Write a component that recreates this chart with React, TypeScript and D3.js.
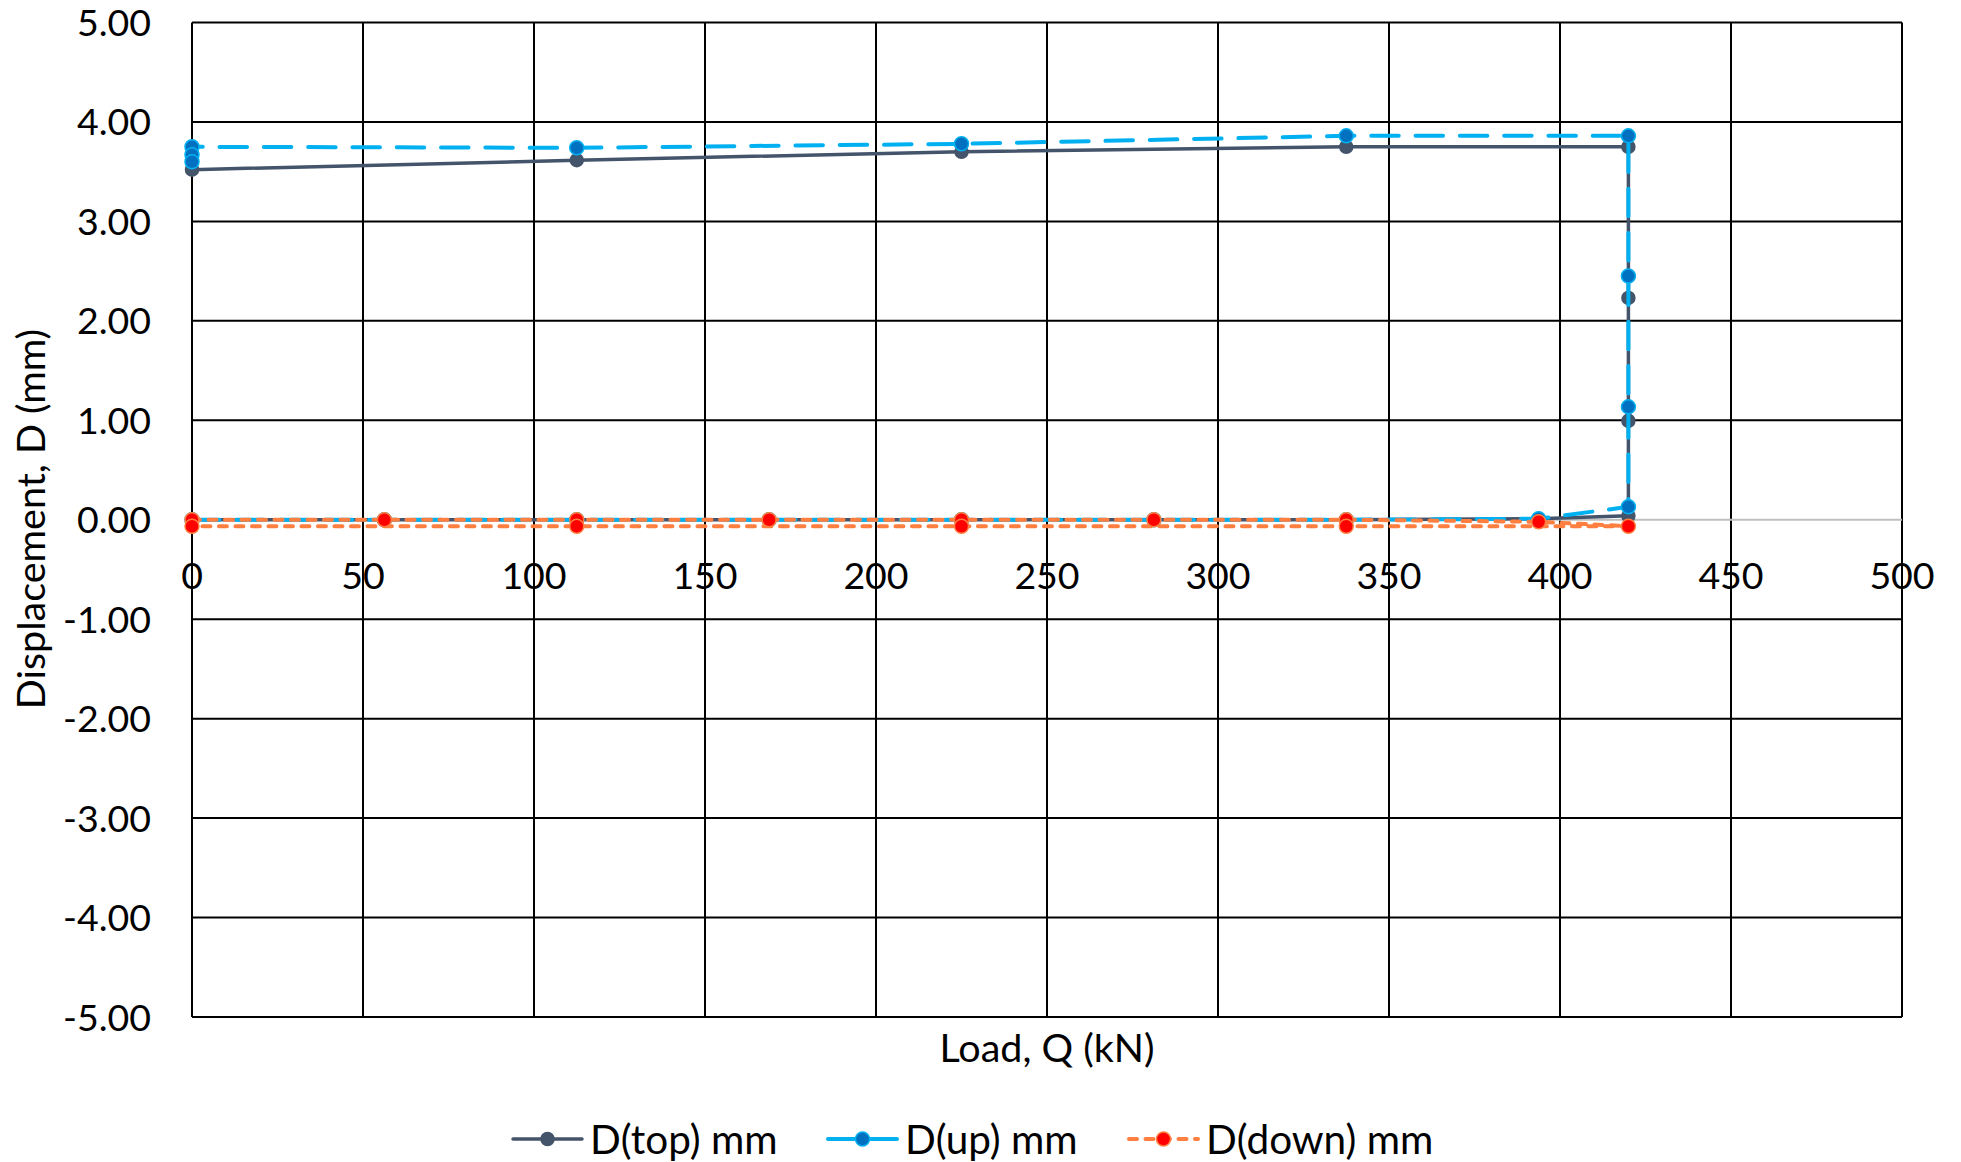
import React from "react";
import * as d3 from "d3";

const xTicks = [0, 50, 100, 150, 200, 250, 300, 350, 400, 450, 500];
const yTicks = [5, 4, 3, 2, 1, 0, -1, -2, -3, -4, -5];

const loadTop = [0, 56.25, 112.5, 168.75, 225, 281.25, 337.5, 393.75, 420, 420, 420, 420, 337.5, 225, 112.5, 0];
const dispTop = [0, 0, 0, 0, 0, 0, 0, 0.01, 0.04, 0.995, 2.23, 3.75, 3.75, 3.7, 3.615, 3.52];

const loadUp = [0, 56.25, 112.5, 168.75, 225, 281.25, 337.5, 393.75, 420, 420, 420, 420, 337.5, 225, 112.5, 0, 0, 0];
const dispUp = [0, 0, 0, 0, 0, 0, 0, 0.01, 0.13, 1.135, 2.45, 3.86, 3.86, 3.78, 3.74, 3.75, 3.67, 3.6];

const loadDown = [0, 56.25, 112.5, 168.75, 225, 281.25, 337.5, 393.75, 420, 337.5, 225, 112.5, 0];
const dispDown = [0, 0, 0, 0, 0, 0, 0, -0.02, -0.065, -0.065, -0.065, -0.065, -0.065];

const seriesNames = ["D(top) mm", "D(up) mm", "D(down) mm"];

const W = 1961;
const H = 1162;
const L = 192, R = 1902, T = 22.5, B = 1017;
const FONT = "Lato, 'Open Sans', sans-serif";
const FS = 37.5;
const FS_TITLE = 39.5;
const FS_LEG = 40.5;

type Pt = [number, number];

export default function App() {
  const x = d3.scaleLinear().domain([0, 500]).range([L, R]);
  const y = d3.scaleLinear().domain([-5, 5]).range([B, T]);
  const line = d3.line<Pt>().x((d) => x(d[0])).y((d) => y(d[1]));

  const zip = (a: number[], b: number[]): Pt[] => a.map((v, i) => [v, b[i]]);

  const series = [
    {
      name: seriesNames[0],
      pts: zip(loadTop, dispTop),
      stroke: "#44546A",
      dash: undefined as string | undefined,
      width: 3.5,
      mFill: "#44546A",
      mStroke: "#44546A",
      r: 6.5,
    },
    {
      name: seriesNames[1],
      pts: zip(loadUp, dispUp),
      stroke: "#00B0F0",
      dash: "27.5 16.8",
      width: 4,
      mFill: "#0070C0",
      mStroke: "#00B0F0",
      r: 7,
    },
    {
      name: seriesNames[2],
      pts: zip(loadDown, dispDown),
      stroke: "#FF7F40",
      dash: "8 8.5",
      width: 4,
      mFill: "#FF0000",
      mStroke: "#FF7F40",
      r: 7,
    },
  ];

  const legendX = [513, 828, 1129];
  const legendY = 1139;

  return (
    <svg
      width={W}
      height={H}
      style={{ position: "absolute", left: 0, top: 0, background: "#fff" }}
      fontFamily={FONT}
    >
      <rect x={0} y={0} width={W} height={H} fill="#fff" />
      {xTicks.map((t) => (
        <line key={"gx" + t} x1={x(t)} x2={x(t)} y1={T} y2={B} stroke="#000" strokeWidth={2} />
      ))}
      {yTicks.map((t) => (
        <line
          key={"gy" + t}
          x1={L}
          x2={R}
          y1={y(t)}
          y2={y(t)}
          stroke={t === 0 ? "#BFBFBF" : "#000"}
          strokeWidth={2}
        />
      ))}
      {yTicks.map((t) => (
        <text key={"ly" + t} x={151} y={y(t)} dy="0.36em" textAnchor="end" fontSize={FS} fill="#000">
          {t.toFixed(2)}
        </text>
      ))}
      {xTicks.map((t) => (
        <text key={"lx" + t} x={x(t)} y={575} dy="0.36em" textAnchor="middle" fontSize={FS} fill="#000">
          {t}
        </text>
      ))}
      {series.map((s) => (
        <g key={s.name}>
          <path
            d={line(s.pts) || ""}
            fill="none"
            stroke={s.stroke}
            strokeWidth={s.width}
            strokeDasharray={s.dash}
            strokeLinecap="round"
            strokeLinejoin="round"
          />
          {s.pts.map((p, i) => (
            <circle key={i} cx={x(p[0])} cy={y(p[1])} r={s.r} fill={s.mFill} stroke={s.mStroke} strokeWidth={1.5} />
          ))}
        </g>
      ))}
      <text x={1047} y={1048} dy="0.36em" textAnchor="middle" fontSize={FS_TITLE} fill="#000">
        Load, Q (kN)
      </text>
      <text
        transform={`translate(31,519) rotate(-90)`}
        dy="0.36em"
        textAnchor="middle"
        fontSize={FS_TITLE}
        fill="#000"
      >
        Displacement, D (mm)
      </text>
      {series.map((s, i) => (
        <g key={"leg" + i}>
          <line
            x1={legendX[i]}
            x2={legendX[i] + 69}
            y1={legendY}
            y2={legendY}
            stroke={s.stroke}
            strokeWidth={s.width}
            strokeDasharray={i === 2 ? "8 8.5" : i === 1 ? "27.5 14" : undefined}
            strokeLinecap="round"
          />
          <circle cx={legendX[i] + 34.5} cy={legendY} r={s.r} fill={s.mFill} stroke={s.mStroke} strokeWidth={1.5} />
          <text x={legendX[i] + 77} y={legendY} dy="0.36em" fontSize={FS_LEG} fill="#000">
            {s.name}
          </text>
        </g>
      ))}
    </svg>
  );
}
